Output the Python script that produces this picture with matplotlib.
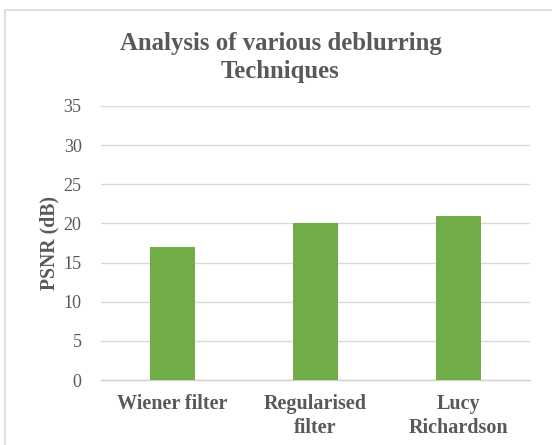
import matplotlib
matplotlib.use('Agg')
import matplotlib.pyplot as plt
from matplotlib.patches import Rectangle

# Data
techniques = ['Wiener filter', 'Regularised\nfilter', 'Lucy\nRichardson']
psnr = [17.0, 20.1, 21.0]
yticks = [0, 5, 10, 15, 20, 25, 30, 35]

grey = '#595959'
bar_colour = '#70AD47'

plt.rcParams['font.family'] = ['Liberation Serif', 'DejaVu Serif']

fig = plt.figure(figsize=(5.52, 4.45), dpi=100)

# Chart-area border (light grey, cut off at right and bottom)
fig.patches.append(Rectangle((5 / 552, -0.05), 1.2, 1 - 10 / 445 + 0.05,
                             transform=fig.transFigure, fill=False,
                             edgecolor='#d9d9d9', linewidth=1.2))

ax = fig.add_axes([0.183, 0.146, 0.777, 0.616])
x = range(len(techniques))
ax.bar(x, psnr, width=0.315, color=bar_colour, zorder=3)

ax.set_xlim(-0.5, 2.5)
ax.set_ylim(0, 35)
ax.set_yticks(yticks)
ax.set_xticks(list(x))
ax.set_xticklabels(techniques, fontweight='bold', fontsize=14.5, color=grey,
                   linespacing=1.3)
ax.tick_params(axis='y', labelsize=13, labelcolor=grey, length=0, pad=14)
ax.tick_params(axis='x', length=0, pad=10)

ax.grid(axis='y', color='#d9d9d9', linewidth=1.0, zorder=0)
for s in ['top', 'right', 'left']:
    ax.spines[s].set_visible(False)
ax.spines['bottom'].set_color('#d0d0d0')
ax.spines['bottom'].set_linewidth(1.0)

ax.set_ylabel('PSNR (dB)', fontweight='bold', fontsize=14.2, color=grey)
ax.yaxis.set_label_coords(-0.096, 0.5)

fig.text(0.508, 0.871, 'Analysis of various deblurring\nTechniques',
         ha='center', va='center', fontsize=17.8, fontweight='bold', color=grey,
         linespacing=1.25)

fig.savefig('out.png', dpi=100)
